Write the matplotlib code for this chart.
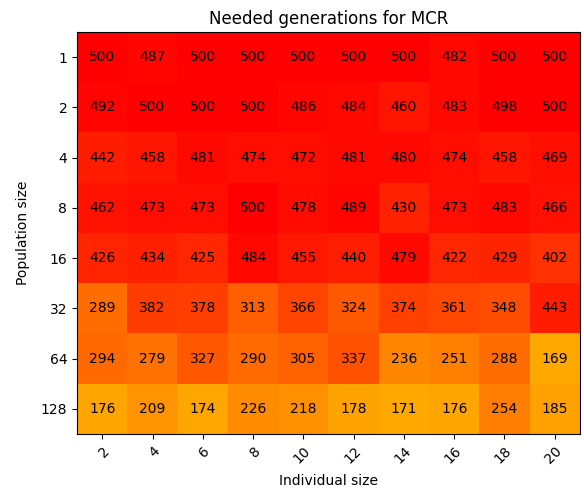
import matplotlib
matplotlib.use('Agg')
import matplotlib.pyplot as plt
import numpy as np

individual_sizes = [2, 4, 6, 8, 10, 12, 14, 16, 18, 20]
population_sizes = [1, 2, 4, 8, 16, 32, 64, 128]

# needed generations, one row per population size
row_1 = [500, 487, 500, 500, 500, 500, 500, 482, 500, 500]
row_2 = [492, 500, 500, 500, 486, 484, 460, 483, 498, 500]
row_4 = [442, 458, 481, 474, 472, 481, 480, 474, 458, 469]
row_8 = [462, 473, 473, 500, 478, 489, 430, 473, 483, 466]
row_16 = [426, 434, 425, 484, 455, 440, 479, 422, 429, 402]
row_32 = [289, 382, 378, 313, 366, 324, 374, 361, 348, 443]
row_64 = [294, 279, 327, 290, 305, 337, 236, 251, 288, 169]
row_128 = [176, 209, 174, 226, 218, 178, 171, 176, 254, 185]

data = np.array([row_1, row_2, row_4, row_8, row_16, row_32, row_64, row_128])

fig = plt.figure(figsize=(5.84, 4.93), dpi=100)
ax = fig.add_axes([0.132, 0.12, 0.861, 0.815])
ax.imshow(data, cmap='autumn_r', vmin=0, vmax=500, aspect='auto')

for i in range(len(population_sizes)):
    for j in range(len(individual_sizes)):
        ax.text(j, i, str(data[i, j]), ha='center', va='center', color='black', fontsize=10)

ax.set_xticks(np.arange(len(individual_sizes)))
ax.set_xticklabels(individual_sizes, rotation=45, ha='right', rotation_mode='anchor')
ax.set_yticks(np.arange(len(population_sizes)))
ax.set_yticklabels(population_sizes)
ax.set_xlabel('Individual size', labelpad=6)
ax.set_ylabel('Population size', labelpad=8)
ax.set_title('Needed generations for MCR')

plt.savefig('out.png', dpi=100)
